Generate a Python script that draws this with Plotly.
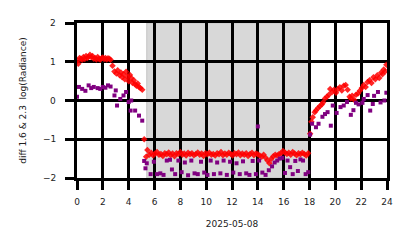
import plotly.graph_objects as go

# red series (diff 1.6) — hours and values
red_t = [0.0, 0.1, 0.2, 0.3, 0.4, 0.5, 0.6, 0.7, 0.8, 0.9, 1.0, 1.1, 1.2, 1.3, 1.4, 1.5, 1.6, 1.7,
         1.8, 1.9, 2.0, 2.1, 2.2, 2.3, 2.4, 2.5, 2.6, 2.75, 2.9, 3.05, 3.15, 3.3, 3.4, 3.5, 3.6,
         3.7, 3.8, 3.9, 4.0, 4.1, 4.2, 4.3, 4.4, 4.5, 4.6, 4.7, 4.8, 4.9, 5.05, 5.2, 5.35, 5.45,
         5.6, 5.75, 5.9, 6.05, 6.2, 6.35, 6.5, 6.65, 6.8, 6.95, 7.1, 7.25, 7.4, 7.55, 7.7, 7.85,
         8.0, 8.15, 8.3, 8.45, 8.6, 8.75, 8.9, 9.05, 9.2, 9.35, 9.5, 9.65, 9.8, 9.95, 10.1, 10.25,
         10.4, 10.55, 10.7, 10.85, 11.0, 11.15, 11.3, 11.45, 11.6, 11.75, 11.9, 12.05, 12.2, 12.35,
         12.5, 12.65, 12.8, 12.95, 13.1, 13.25, 13.4, 13.55, 13.7, 13.85, 14.0, 14.15, 14.3, 14.45,
         14.6, 14.75, 14.9, 15.05, 15.2, 15.35, 15.5, 15.65, 15.8, 15.95, 16.1, 16.25, 16.4, 16.55,
         16.7, 16.85, 17.0, 17.15, 17.3, 17.45, 17.6, 17.75, 17.9,
         18.05, 18.15, 18.25, 18.4, 18.5, 18.65, 18.8, 18.95, 19.05, 19.2, 19.35, 19.5, 19.6, 19.75,
         19.9, 20.05, 20.2, 20.35, 20.5, 20.65, 20.8, 20.95, 21.1, 21.2, 21.3, 21.45, 21.6, 21.75,
         21.9, 22.05, 22.2, 22.35, 22.5, 22.65, 22.8, 22.95, 23.1, 23.25, 23.4, 23.55, 23.65,
         23.75, 23.85, 23.95]
red_v = [1.02, 0.95, 1.10, 1.08, 1.05, 1.12, 1.07, 1.15, 1.10, 1.13, 1.18, 1.12, 1.15, 1.08,
         1.10, 1.06, 1.12, 1.08, 1.05, 1.09, 1.11, 1.07, 1.10, 1.06, 1.09, 1.08, 1.05, 0.90, 0.75,
         0.70, 0.78, 0.65, 0.72, 0.60, 0.68, 0.55, 0.74, 0.62, 0.50, 0.66, 0.58, 0.45, 0.52, 0.42,
         0.38, 0.44, 0.35, 0.32, 0.28, -1.00, -1.45, -1.28,
         -1.40, -1.35, -1.42, -1.37, -1.33, -1.40, -1.38, -1.43, -1.36, -1.39, -1.34, -1.41, -1.37,
         -1.44, -1.36, -1.38, -1.33, -1.40, -1.37, -1.42, -1.35, -1.39, -1.36, -1.41, -1.38, -1.34,
         -1.40, -1.37, -1.43, -1.36, -1.39, -1.35, -1.40, -1.38, -1.42, -1.36, -1.39, -1.33, -1.41,
         -1.37, -1.40, -1.35, -1.38, -1.42, -1.36, -1.39, -1.34, -1.41, -1.37, -1.40, -1.36, -1.43,
         -1.38, -1.35, -1.41, -1.37, -1.39, -1.42, -1.45, -1.40, -1.48, -1.55, -1.62, -1.50, -1.44,
         -1.40, -1.42, -1.38, -1.36, -1.30, -1.34, -1.38, -1.35, -1.40, -1.33, -1.37, -1.41, -1.36,
         -1.39, -1.35, -1.38, -1.42, -1.36,
         -0.86, -0.55, -0.43, -0.30, -0.26, -0.20, -0.15, -0.10, -0.05, 0.05, 0.10, 0.15, 0.30,
         0.22, 0.28, 0.20, 0.30, 0.34, 0.26, 0.38, 0.40, 0.28, 0.10, 0.05, 0.12, 0.02, 0.15, 0.18,
         0.25, 0.32, 0.40, 0.35, 0.48, 0.52, 0.45, 0.60, 0.55, 0.65, 0.58, 0.72, 0.68, 0.80, 0.75,
         0.92]

# purple series (diff 2.3)
purple_t = [0.0, 0.15, 0.4, 0.65, 0.9, 1.1, 1.3, 1.6, 1.8, 2.0, 2.2, 2.4, 2.6, 2.9, 3.0, 3.1,
            3.35, 3.6, 3.8, 4.0, 4.15, 4.2, 4.5, 4.8, 5.05, 5.2, 5.3, 5.4, 5.7,
            5.95, 6.2, 6.45, 6.7, 6.95, 7.2, 7.35, 7.6, 7.85, 8.1, 8.35, 8.6, 8.85, 9.1, 9.35,
            9.6, 9.85, 10.1, 10.35, 10.6, 10.85, 11.1, 11.35, 11.6, 11.85, 12.1, 12.35, 12.6,
            12.85, 13.1, 13.35, 13.6, 13.85, 14.0, 14.1, 14.35, 14.6, 14.85, 15.1, 15.3, 15.5,
            15.7, 15.9, 16.1, 16.3, 16.5, 16.7, 16.9, 17.1, 17.3, 17.5, 17.7, 17.9,
            18.05, 18.2, 18.5, 18.7, 19.0, 19.2, 19.4, 19.65, 19.8, 20.1, 20.4, 20.65, 20.9,
            21.2, 21.4, 21.6, 21.8, 22.1, 22.2, 22.5, 22.7, 22.9, 23.0, 23.3, 23.5, 23.8, 23.95]
purple_v = [0.10, 0.35, 0.30, 0.25, 0.39, 0.32, 0.35, 0.32, 0.30, 0.35, 0.33, 0.39, 0.36, 0.13,
            0.26, -0.13, 0.04, 0.13, 0.22, -0.04, -0.26, 0.00, -0.26, -0.39, -0.52, -1.56,
            -1.75, -1.62, -1.90,
            -1.58, -1.90, -1.88, -1.92, -1.55, -1.53, -1.78, -1.90, -1.55, -1.85, -1.60, -1.93,
            -1.55, -1.88, -1.90, -1.58, -1.86, -1.92, -1.55, -1.90, -1.60, -1.88, -1.55, -1.92,
            -1.58, -1.86, -1.62, -1.90, -1.57, -1.88, -1.92, -1.56, -1.90, -0.67, -1.55, -1.86,
            -1.92, -1.80, -1.70, -1.60, -1.55, -1.50, -1.48, -1.87, -1.55, -1.72, -1.90, -1.56,
            -1.82, -1.52, -1.55, -1.90, -1.85,
            -0.88, -0.60, -0.69, -0.60, -0.42, -0.35, -0.30, -0.65, -0.13, -0.32, -0.17, -0.13,
            -0.04, -0.37, -0.25, -0.06, -0.10, -0.06, 0.04, 0.14, -0.26, -0.09, 0.12, 0.22,
            -0.05, 0.00, 0.20]

x_ticks = [0, 2, 4, 6, 8, 10, 12, 14, 16, 18, 20, 22, 24]
y_ticks = [-2, -1, 0, 1, 2]
y_tick_labels = ["\u22122", "\u22121", "0", "1", "2"]
night_start, night_end = 5.4, 18.05

fig = go.Figure()
fig.add_trace(go.Scatter(x=red_t, y=red_v, mode="markers",
                         marker=dict(symbol="diamond", size=5, color="rgba(255,0,0,0.85)",
                                     line=dict(width=0)),
                         cliponaxis=True, showlegend=False))
fig.add_trace(go.Scatter(x=purple_t, y=purple_v, mode="markers",
                         marker=dict(symbol="square", size=4, color="#800080",
                                     line=dict(width=0)),
                         cliponaxis=True, showlegend=False))
fig.add_shape(type="rect", xref="x", yref="y", x0=night_start, x1=night_end, y0=-2, y1=2,
              fillcolor="#d8d8d8", line=dict(color="#c4c4c4", width=1), layer="below")

font = dict(family="DejaVu Sans", size=9, color="#222")
axis_common = dict(showgrid=True, gridcolor="black", gridwidth=2.5, zeroline=False,
                   showline=True, linecolor="black", linewidth=2.5, mirror=True,
                   ticks="outside", ticklen=9, tickwidth=2.5, tickcolor="black",
                   tickfont=font)
fig.update_xaxes(range=[0, 24], tickvals=x_ticks, ticktext=[str(v) for v in x_ticks],
                 ticklabelstandoff=4,
                 title=dict(text="2025-05-08", font=font, standoff=16),
                 **axis_common)
fig.update_yaxes(range=[-2, 2], tickvals=y_ticks, showticklabels=False,
                 title=dict(text="diff 1.6 &#38; 2.3  log(Radiance)", font=font, standoff=38),
                 **axis_common)
# y tick labels placed at the axis' own tick values
for v, s in zip(y_ticks, y_tick_labels):
    fig.add_annotation(x=0, xref="paper", y=v, yref="y", text=s, showarrow=False,
                       xanchor="right", yanchor="middle", xshift=-19, font=font)
fig.update_layout(width=414, height=248, margin=dict(l=77, r=27, t=23, b=70),
                  paper_bgcolor="white", plot_bgcolor="white")
fig.write_html("out.html")
